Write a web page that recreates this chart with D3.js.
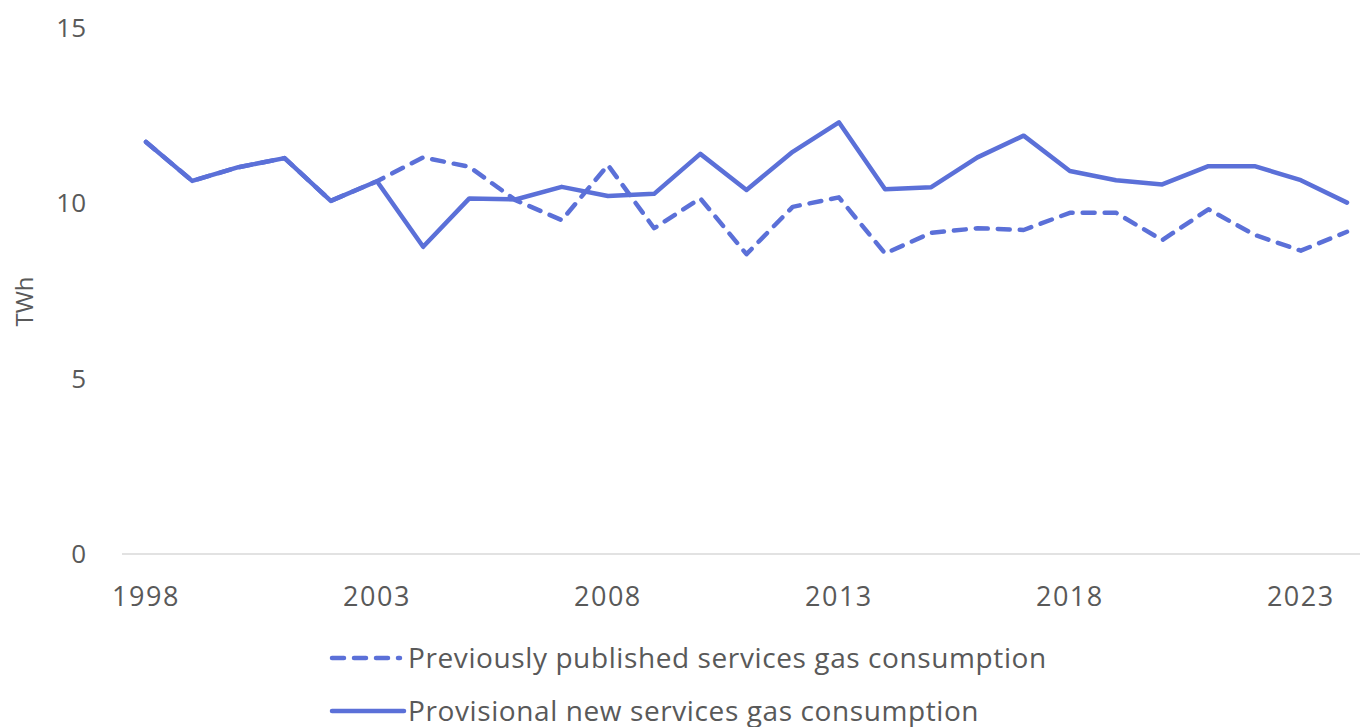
<!DOCTYPE html>
<html>
<head>
<meta charset="utf-8">
<script src="https://cdn.jsdelivr.net/npm/d3@7"></script>
<style>
  body { margin: 0; background: #fff; }
  svg { display: block; }
</style>
</head>
<body>
<div id="chart"></div>
<script>
const years = d3.range(1998, 2025);
const previous = [11.75, 10.64, 11.03, 11.29, 10.07, 10.63, 11.31, 11.04, 10.09, 9.52, 11.09, 9.29, 10.14, 8.55, 9.90, 10.17, 8.57, 9.16, 9.29, 9.24, 9.73, 9.73, 8.95, 9.83, 9.10, 8.65, 9.19];
const provisional = [11.75, 10.64, 11.03, 11.29, 10.07, 10.63, 8.76, 10.14, 10.11, 10.47, 10.21, 10.27, 11.41, 10.38, 11.47, 12.31, 10.40, 10.46, 11.31, 11.93, 10.92, 10.66, 10.54, 11.06, 11.06, 10.66, 10.02];
const yTicks = [0, 5, 10, 15];
const xTicks = [1998, 2003, 2008, 2013, 2018, 2023];
const seriesNames = ["Previously published services gas consumption", "Provisional new services gas consumption"];

const width = 1360, height = 727;
const color = "#5b70d8";
const textColor = "#595959";
const font = "'Open Sans', 'Liberation Sans', sans-serif";

const svg = d3.select("#chart").append("svg")
  .attr("width", width).attr("height", height)
  .style("font-family", font);

const x = d3.scaleLinear().domain([1998, 2024]).range([146, 1347]);
const y = d3.scaleLinear().domain([0, 15]).range([554, 28]);

// baseline
svg.append("line")
  .attr("x1", 122).attr("x2", 1360)
  .attr("y1", y(0)).attr("y2", y(0))
  .attr("stroke", "#d9d9d9").attr("stroke-width", 1.5);

// y tick labels
svg.append("g")
  .selectAll("text")
  .data(yTicks)
  .join("text")
  .attr("x", 86)
  .attr("y", (d) => y(d))
  .attr("dy", "0.35em")
  .attr("text-anchor", "end")
  .attr("fill", textColor)
  .style("font-size", "26px")
  .text((d) => d);

// x tick labels
svg.append("g")
  .selectAll("text")
  .data(xTicks)
  .join("text")
  .attr("x", (d) => x(d))
  .attr("y", 597)
  .attr("dy", "0.35em")
  .attr("text-anchor", "middle")
  .attr("fill", textColor)
  .style("font-size", "27px")
  .style("letter-spacing", "1.5px")
  .text((d) => d);

// axis title
svg.append("text")
  .attr("transform", `translate(${25}, ${y(7.2)}) rotate(-90)`)
  .attr("text-anchor", "middle")
  .attr("dy", "0.35em")
  .attr("fill", textColor)
  .style("font-size", "24px")
  .text("TWh");

const line = d3.line()
  .x((d, i) => x(years[i]))
  .y((d) => y(d));

svg.append("path")
  .datum(previous)
  .attr("d", line)
  .attr("fill", "none")
  .attr("stroke", color)
  .attr("stroke-width", 4.5)
  .attr("stroke-linecap", "round")
  .attr("stroke-linejoin", "round")
  .attr("stroke-dasharray", "12 10");

svg.append("path")
  .datum(provisional)
  .attr("d", line)
  .attr("fill", "none")
  .attr("stroke", color)
  .attr("stroke-width", 4.5)
  .attr("stroke-linecap", "round")
  .attr("stroke-linejoin", "round");

// legend
const legend = svg.append("g")
  .selectAll("g")
  .data(seriesNames)
  .join("g")
  .attr("transform", (d, i) => `translate(330, ${658 + i * 53})`);

legend.append("line")
  .attr("x1", 2).attr("x2", (d, i) => (i === 0 ? 70 : 74))
  .attr("y1", 0).attr("y2", 0)
  .attr("stroke", color)
  .attr("stroke-width", 4.5)
  .attr("stroke-linecap", "round")
  .attr("stroke-dasharray", (d, i) => (i === 0 ? "12 10" : null));

legend.append("text")
  .attr("x", 78)
  .attr("y", 0)
  .attr("dy", "0.35em")
  .attr("fill", textColor)
  .style("font-size", "28px")
  .style("letter-spacing", "0.6px")
  .text((d) => d);
</script>
</body>
</html>
